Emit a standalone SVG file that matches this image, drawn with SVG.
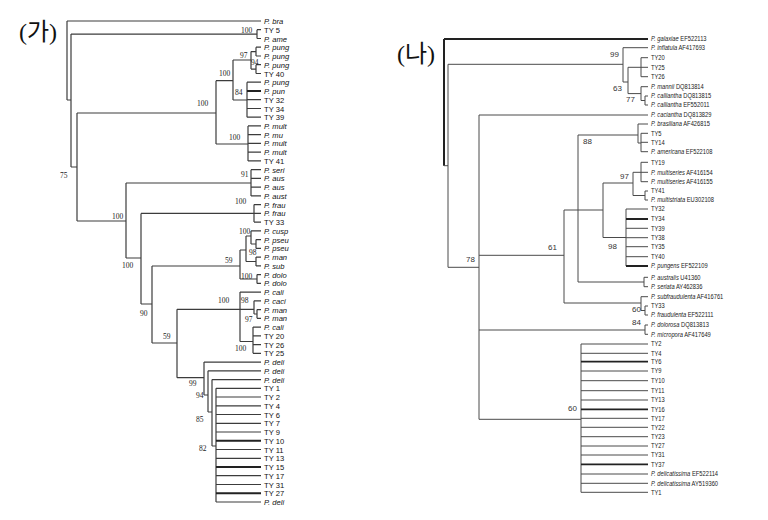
<svg xmlns="http://www.w3.org/2000/svg" width="768" height="520" viewBox="0 0 768 520">
<style>
.ln{fill:none;stroke:#3c3c3c;stroke-width:1.2}
.rl{fill:none;stroke:#4a4a4a;stroke-width:1}
.tk{fill:none;stroke:#222;stroke-width:2}
.lt{font-family:"Liberation Sans",Arial,sans-serif;font-size:7.6px;fill:#111}
.it{font-style:italic}
.bs{font-family:"Liberation Serif","Times New Roman",serif;font-size:7.5px;fill:#222}
.rt{font-family:"Liberation Sans",Arial,sans-serif;font-size:7.6px;fill:#222}
.rb{font-family:"Liberation Sans",Arial,sans-serif;font-size:8px;fill:#333}
.hd{font-family:"Liberation Serif","Noto Sans CJK KR",serif;font-size:24px;fill:#111}
</style>
<rect width="768" height="520" fill="#fff"/>
<g id="title-ga"><text class="hd" x="19" y="40">(가)</text></g>
<g id="title-na"><text class="hd" x="397" y="62">(나)</text></g>

<g id="connectors">
<path class="ln" d="M67 21V100M67 21H261M67 100H71M71 34.1V167M71 34.1H257M257 29.7V38.5M257 29.7H261M257 38.5H261
M71 167H77M77 113V221M77 113H216M216 80.7V144M216 80.7H233M233 60V100M233 60H251M251 51.6V69.1M251 51.6H256M256 47.2V56M256 47.2H261M256 56H261M251 69.1H256M256 64.7V73.5M256 64.7H261M256 73.5H261
M233 100H247M247 82.2V117.2M247 82.2H261M247 99.7H261M247 108.5H261M247 117.2H261
M216 144H248M248 125.9V160.9M248 125.9H261M248 134.7H261M248 143.4H261M248 152.2H261M248 160.9H261
M77 221H126M126 183V258M126 183H251M251 169.7V195.9M251 169.7H261M251 178.4H261M251 187.2H261M251 195.9H261
M126 258H141M141 213.4V304M141 213.4H261M254 204.6V222.1M254 204.6H261M254 222.1H261
M141 304H152M152 266V343M152 266H240M240 250V279M240 250H246M246 236V261.5M246 236H251M251 230.9V244M251 230.9H261M251 244H256M256 239.6V248.4M256 239.6H261M256 248.4H261M246 261.5H256M256 257.1V265.9M256 257.1H261M256 265.9H261
M240 279H257M257 274.6V283.4M257 274.6H261M257 283.4H261
M152 343H177M177 309.3V377.7M177 309.3H254M240 292.1V341.5M240 292.1H261M254 300.8V314M254 300.8H261M254 314H257M257 309.6V318.3M257 309.6H261M257 318.3H261
M240 341.5H253M253 327.1V353.3M253 327.1H261M253 335.8H261M253 344.6H261M253 353.3H261
M177 377.7H204M204 362.1V395M204 362.1H261M204 395H208M208 370.8V412M208 370.8H261M208 412H212M212 379.6V446M212 379.6H261M212 446H216M216 388.3V502
M216 388.3H261M216 397H261M216 405.8H261M216 414.5H261M216 423.3H261M216 432H261M216 449.5H261M216 458.3H261M216 475.7H261M216 484.5H261M216 502H261"/>
<path class="tk" d="M247 91H261M216 440.8H261M216 467H261M216 493.2H261"/>

<path class="tk" d="M444 39V165.7M444 39H648"/>
<path class="rl" d="M444 165.7H448M448 64.3V267.3M448 64.3H623M623 47.7V82M623 47.7H648M623 82H628M628 67.3V93.6M628 67.3H641M641 57.7V76.7M641 57.7H648M641 67.3H648M641 76.7H648M628 93.6H641M641 86.7V100.5M641 86.7H648M641 100.5H645M645 96V105M645 96H648M645 105H648
M448 267.3H479M479 115V419.3M479 115H648
M479 255.3H564M564 210V303M564 210H603M578 135V282M578 135H638M638 124V143M638 124H648M638 143H641M641 133.3V151.7M641 133.3H648M641 142.3H648M641 151.7H648M578 282H644M644 277.3V286.7M644 277.3H648M644 286.7H648
M603 183V237.5M603 183H633M633 172.3V195.5M633 172.3H641M641 162.3V181.7M641 162.3H648M641 172.3H648M641 181.7H648M633 195.5H645M645 191V200M645 191H648M645 200H648
M603 237.5H626M626 209V266M626 209H648M626 228.3H648M626 237.7H648M626 246.7H648M626 256.7H648
M564 303H641M641 296.7V310.5M641 296.7H648M641 310.5H645M645 306V315M645 306H648M645 315H648
M479 330H645M645 325V334.3M645 325H648M645 334.3H648
M479 419.3H581M581 344V492.3M581 344H648M581 353.3H648M581 371H648M581 380.7H648M581 390.7H648M581 400H648M581 418.3H648M581 427.3H648M581 436.7H648M581 446H648M581 455H648M581 474H648M581 483.3H648M581 492.3H648"/>
<path class="tk" style="stroke-width:1.8" d="M626 219H648M626 266H648M581 361.7H648M581 409.3H648M581 464.3H648"/>
</g>

<g id="left-support" class="bs">
<text x="241" y="33">100</text>
<text x="60" y="178">75</text>
<text x="197" y="106">100</text>
<text x="219" y="76">100</text>
<text x="240" y="57.7">97</text>
<text x="251" y="65">94</text>
<text x="235" y="95">84</text>
<text x="229" y="140">100</text>
<text x="112" y="219">100</text>
<text x="241" y="176.7">91</text>
<text x="122" y="268">100</text>
<text x="235" y="204">100</text>
<text x="140" y="315.7">90</text>
<text x="225" y="262.7">59</text>
<text x="239" y="234">100</text>
<text x="249" y="255">98</text>
<text x="241" y="279">100</text>
<text x="163" y="339">59</text>
<text x="218" y="303.3">100</text>
<text x="241" y="303.3">98</text>
<text x="245" y="321.7">97</text>
<text x="235" y="351">100</text>
<text x="189" y="386">99</text>
<text x="196" y="397.7">94</text>
<text x="196" y="421.7">85</text>
<text x="199" y="451">82</text>
</g>

<g id="left-leaves" class="lt" transform="translate(264 0)">
<text id="l1" class="it" y="24">P. bra</text>
<text id="l2" y="32.7">TY 5</text>
<text id="l3" class="it" y="41.5">P. ame</text>
<text id="l4" class="it" y="50.2">P. pung</text>
<text id="l5" class="it" y="59">P. pung</text>
<text id="l6" class="it" y="67.7">P. pung</text>
<text id="l7" y="76.5">TY 40</text>
<text id="l8" class="it" y="85.2">P. pung</text>
<text id="l9" class="it" y="94">P. pun</text>
<text id="l10" y="102.7">TY 32</text>
<text id="l11" y="111.5">TY 34</text>
<text id="l12" y="120.2">TY 39</text>
<text id="l13" class="it" y="128.9">P. mult</text>
<text id="l14" class="it" y="137.7">P. mu</text>
<text id="l15" class="it" y="146.4">P. mult</text>
<text id="l16" class="it" y="155.2">P. mult</text>
<text id="l17" y="163.9">TY 41</text>
<text id="l18" class="it" y="172.7">P. seri</text>
<text id="l19" class="it" y="181.4">P. aus</text>
<text id="l20" class="it" y="190.2">P. aus</text>
<text id="l21" class="it" y="198.9">P. aust</text>
<text id="l22" class="it" y="207.6">P. frau</text>
<text id="l23" class="it" y="216.4">P. frau</text>
<text id="l24" y="225.1">TY 33</text>
<text id="l25" class="it" y="233.9">P. cusp</text>
<text id="l26" class="it" y="242.6">P. pseu</text>
<text id="l27" class="it" y="251.4">P. pseu</text>
<text id="l28" class="it" y="260.1">P. man</text>
<text id="l29" class="it" y="268.9">P. sub</text>
<text id="l30" class="it" y="277.6">P. dolo</text>
<text id="l31" class="it" y="286.4">P. dolo</text>
<text id="l32" class="it" y="295.1">P. cali</text>
<text id="l33" class="it" y="303.8">P. caci</text>
<text id="l34" class="it" y="312.6">P. man</text>
<text id="l35" class="it" y="321.3">P. man</text>
<text id="l36" class="it" y="330.1">P. cali</text>
<text id="l37" y="338.8">TY 20</text>
<text id="l38" y="347.6">TY 26</text>
<text id="l39" y="356.3">TY 25</text>
<text id="l40" class="it" y="365.1">P. deli</text>
<text id="l41" class="it" y="373.8">P. deli</text>
<text id="l42" class="it" y="382.6">P. deli</text>
<text id="l43" y="391.3">TY 1</text>
<text id="l44" y="400">TY 2</text>
<text id="l45" y="408.8">TY 4</text>
<text id="l46" y="417.5">TY 6</text>
<text id="l47" y="426.3">TY 7</text>
<text id="l48" y="435">TY 9</text>
<text id="l49" y="443.8">TY 10</text>
<text id="l50" y="452.5">TY 11</text>
<text id="l51" y="461.3">TY 13</text>
<text id="l52" y="470">TY 15</text>
<text id="l53" y="478.7">TY 17</text>
<text id="l54" y="487.5">TY 31</text>
<text id="l55" y="496.2">TY 27</text>
<text id="l56" class="it" y="505">P. deli</text>
</g>

<g id="right-support" class="rb">
<text x="610" y="56.7">99</text>
<text x="613" y="90.7">63</text>
<text x="626" y="102.3">77</text>
<text x="583" y="144.3">88</text>
<text x="620" y="179.3">97</text>
<text x="608" y="249">98</text>
<text x="548" y="250">61</text>
<text x="466" y="261.7">78</text>
<text x="632" y="311.7">60</text>
<text x="632" y="325">84</text>
<text x="568" y="411">60</text>
</g>

<g id="right-leaves" class="rt" transform="translate(651 0) scale(0.76 1)">
<text id="r1" y="41.5"><tspan class="it">P. galaxiae</tspan> EF522113</text>
<text id="r2" y="50.2"><tspan class="it">P. inflatula</tspan> AF417693</text>
<text id="r3" y="60.2">TY20</text>
<text id="r4" y="69.8">TY25</text>
<text id="r5" y="79.2">TY26</text>
<text id="r6" y="89.2"><tspan class="it">P. mannii</tspan> DQ813814</text>
<text id="r7" y="98.5"><tspan class="it">P. calliantha</tspan> DQ813815</text>
<text id="r8" y="107.5"><tspan class="it">P. calliantha</tspan> EF552011</text>
<text id="r9" y="117.5"><tspan class="it">P. caciantha</tspan> DQ813829</text>
<text id="r10" y="126.5"><tspan class="it">P. brasiliana</tspan> AF426815</text>
<text id="r11" y="135.8">TY5</text>
<text id="r12" y="144.8">TY14</text>
<text id="r13" y="154.2"><tspan class="it">P. americana</tspan> EF522108</text>
<text id="r14" y="164.8">TY19</text>
<text id="r15" y="174.8"><tspan class="it">P. multiseries</tspan> AF416154</text>
<text id="r16" y="184.2"><tspan class="it">P. multiseries</tspan> AF416155</text>
<text id="r17" y="193.5">TY41</text>
<text id="r18" y="202.5"><tspan class="it">P. multistriata</tspan> EU302108</text>
<text id="r19" y="211.5">TY32</text>
<text id="r20" y="221.5">TY34</text>
<text id="r21" y="230.8">TY39</text>
<text id="r22" y="240.2">TY38</text>
<text id="r23" y="249.2">TY35</text>
<text id="r24" y="259.2">TY40</text>
<text id="r25" y="268.5"><tspan class="it">P. pungens</tspan> EF522109</text>
<text id="r26" y="279.8"><tspan class="it">P. australis</tspan> U41360</text>
<text id="r27" y="289.2"><tspan class="it">P. seriata</tspan> AY462836</text>
<text id="r28" y="299.2"><tspan class="it">P. subfraudulenta</tspan> AF416761</text>
<text id="r29" y="308.5">TY33</text>
<text id="r30" y="317.5"><tspan class="it">P. fraudulenta</tspan> EF522111</text>
<text id="r31" y="327.5"><tspan class="it">P. dolorosa</tspan> DQ813813</text>
<text id="r32" y="336.8"><tspan class="it">P. micropora</tspan> AF417649</text>
<text id="r33" y="346.5">TY2</text>
<text id="r34" y="355.8">TY4</text>
<text id="r35" y="364.2">TY6</text>
<text id="r36" y="373.5">TY9</text>
<text id="r37" y="383.2">TY10</text>
<text id="r38" y="393.2">TY11</text>
<text id="r39" y="402.5">TY13</text>
<text id="r40" y="411.8">TY16</text>
<text id="r41" y="420.8">TY17</text>
<text id="r42" y="429.8">TY22</text>
<text id="r43" y="439.2">TY23</text>
<text id="r44" y="448.5">TY27</text>
<text id="r45" y="457.5">TY31</text>
<text id="r46" y="466.8">TY37</text>
<text id="r47" y="476.5"><tspan class="it">P. delicatissima</tspan> EF522114</text>
<text id="r48" y="485.8"><tspan class="it">P. delicatissima</tspan> AY519360</text>
<text id="r49" y="494.8">TY1</text>
</g>
</svg>
